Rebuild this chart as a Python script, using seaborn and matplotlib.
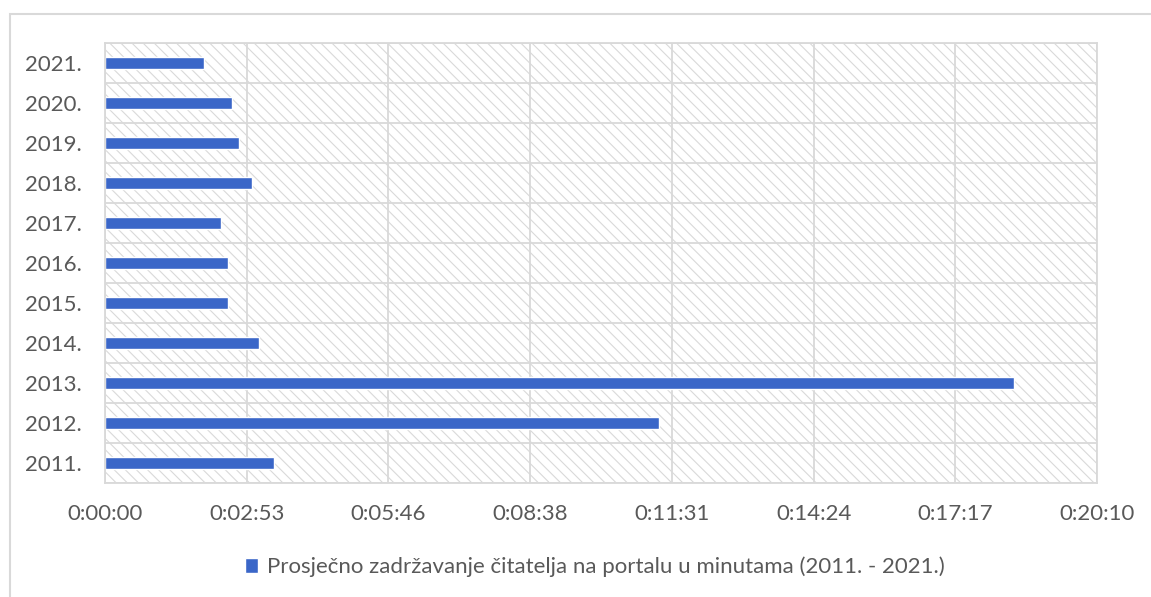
import matplotlib.pyplot as plt
import matplotlib.ticker as mticker
from matplotlib.patches import Rectangle
import numpy as np
import pandas as pd
import seaborn as sns

sns.set_theme(style="white")
plt.rcParams['font.family'] = ['Lato', 'DejaVu Sans']
plt.rcParams['hatch.linewidth'] = 0.8
plt.rcParams['hatch.color'] = '#d9d9d9'

# podaci: prosječno zadržavanje u sekundama
godine = ['2011.', '2012.', '2013.', '2014.', '2015.', '2016.',
          '2017.', '2018.', '2019.', '2020.', '2021.']
sekunde = [206, 675, 1108, 188, 150, 150, 141, 179, 163, 155, 121]
naziv = 'Prosječno zadržavanje čitatelja na portalu u minutama (2011. - 2021.)'

df = pd.DataFrame({'godina': godine, 'sekunde': sekunde})

boja = '#3a66c8'
siva = '#595959'
mreza = '#d9d9d9'

fig = plt.figure(figsize=(11.51, 5.97), dpi=100)
ax = fig.add_axes([105 / 1151, 1 - 483 / 597, 992 / 1151, 440 / 597])

sns.barplot(data=df, x='sekunde', y='godina', order=godine[::-1],
            color=boja, width=0.32, saturation=1, ax=ax, label=naziv)

# šrafirana pozadina
ax.add_patch(Rectangle((0, 0), 1, 1, transform=ax.transAxes, fill=False,
                       hatch='\\\\\\', edgecolor='#d9d9d9', linewidth=0,
                       zorder=0.1))

korak = 172.8  # 0.002 dana
ax.set_xlim(0, korak * 7)
ax.set_xticks(np.arange(0, 8) * korak)


def u_vrijeme(v, pos):
    s = int(round(v))
    return f'{s // 3600}:{(s % 3600) // 60:02d}:{s % 60:02d}'


ax.xaxis.set_major_formatter(mticker.FuncFormatter(u_vrijeme))
ax.set_ylim(len(godine) - 0.5, -0.5)
ax.set_yticks(np.arange(len(godine) + 1) - 0.5, minor=True)

ax.set_axisbelow(True)
ax.grid(axis='x', which='major', color=mreza, linewidth=1.3)
ax.grid(axis='y', which='minor', color=mreza, linewidth=1.3)
ax.tick_params(axis='both', which='both', length=0, labelsize=16, labelcolor=siva)
ax.tick_params(axis='y', which='major', pad=17)
ax.tick_params(axis='x', which='major', pad=15)
ax.set_xlabel('')
ax.set_ylabel('')
for s in ax.spines.values():
    s.set_color(mreza)
    s.set_linewidth(1.3)

# okvir grafikona
fig.add_artist(Rectangle((10 / 1151, -0.1), 1.2, 1.1 - 14 / 597,
                         transform=fig.transFigure, fill=False,
                         edgecolor=mreza, linewidth=1.5))

h, l = ax.get_legend_handles_labels()
if ax.get_legend():
    ax.get_legend().remove()
fig.legend(h, l, loc='center', bbox_to_anchor=(595 / 1151, 1 - 567 / 597),
           frameon=False, fontsize=16, labelcolor=siva, handlelength=0.6,
           handleheight=0.6, handletextpad=0.4)

plt.savefig('out.png', dpi=100)
